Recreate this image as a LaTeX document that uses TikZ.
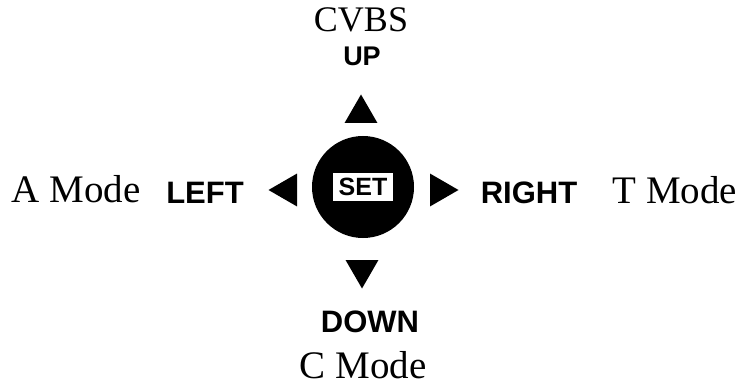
\documentclass[tikz,border=0pt]{standalone}
\usepackage{fontspec}
\setmainfont{Liberation Serif}
\setsansfont{Liberation Sans}
\usepackage{tikz}
\usetikzlibrary{shapes.geometric}
\tikzset{
  modetext/.style={font=\fontsize{39}{44}\selectfont, anchor=base},
  keytext/.style={font=\sffamily\bfseries\fontsize{31}{34}\selectfont, anchor=base},
  arrowkey/.style={regular polygon, regular polygon sides=3, fill=black, inner sep=0pt, minimum size=38pt}
}

\begin{document}
\begin{tikzpicture}[x=1pt,y=-1pt]
        \useasboundingbox (0,0) rectangle (743,387);

        % Draw the SET button
        \node[circle, fill=black, minimum size=102pt, inner sep=0pt] (setbtn) at (363,187) {};
        \node[fill=white, inner sep=0pt, minimum width=60pt, minimum height=28pt, font=\sffamily\bfseries\fontsize{25}{27}\selectfont] (setlabel) at (setbtn) {SET};

        % Arrow keys
        \node[arrowkey] (upkey) at (361,113.5) {};
        \node[arrowkey, shape border rotate=180] (downkey) at (362,269.5) {};
        \node[arrowkey, shape border rotate=90] (leftkey) at (287.5,190) {};
        \node[arrowkey, shape border rotate=270] (rightkey) at (439.5,190) {};

        % Key names
        \node[keytext, font=\sffamily\bfseries\fontsize{27}{30}\selectfont] (uptext) at (362,66) {UP};
        \node[keytext] (downtext) at (370,332) {DOWN};
        \node[keytext] (lefttext) at (205,204) {LEFT};
        \node[keytext] (righttext) at (529,204) {RIGHT};

        % Modes
        \node[modetext, font=\fontsize{36}{40}\selectfont] (cvbs) at (361,32) {CVBS};
        \node[modetext] (cmode) at (363,378) {C Mode};
        \node[modetext] (amode) at (76,203) {A Mode};
        \node[modetext] (tmode) at (675,204) {T Mode};
    \end{tikzpicture}
\end{document}
